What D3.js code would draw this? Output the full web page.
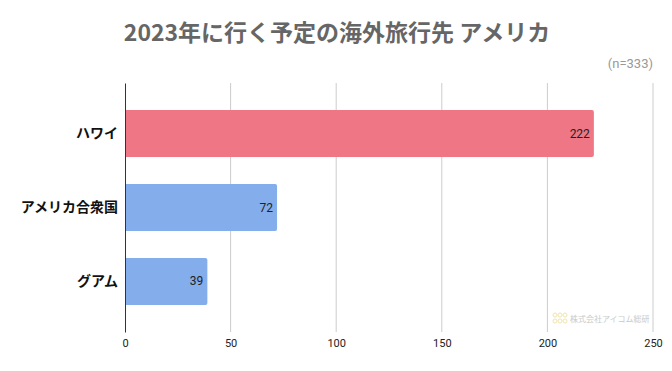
<!DOCTYPE html>
<html>
<head>
<meta charset="utf-8">
<script src="https://cdn.jsdelivr.net/npm/d3@7"></script>
<style>
  body { margin: 0; background: #fff; }
  svg { font-family: Roboto, "Noto Sans CJK JP", sans-serif; }
</style>
</head>
<body>
<svg width="672" height="371"></svg>
<script>
// data
var categories = ["ハワイ", "アメリカ合衆国", "グアム"];
var values = [222, 72, 39];
var barColors = ["#ef7785", "#84aeeb", "#84aeeb"];
var xTicks = [0, 50, 100, 150, 200, 250];

var svg = d3.select("svg");

// plot area
var left_margin = 125;
var right_margin = 19;
var top_margin = 83;
var bottom_margin = 39;

var width = svg.attr("width") - left_margin - right_margin;
var height = svg.attr("height") - top_margin - bottom_margin;

var x = d3.scaleLinear().domain([0, 250]).range([0, width]);
var y = d3.scaleBand().domain(categories).range([0, height]).padding(0.365);

// title
svg.append("text")
  .attr("x", 337)
  .attr("y", 41)
  .attr("text-anchor", "middle")
  .attr("font-size", 23)
  .attr("font-weight", "bold")
  .attr("fill", "#666")
  .attr("font-family", "'Noto Sans CJK JP', sans-serif")
  .text("2023年に行く予定の海外旅行先 アメリカ");

svg.append("text")
  .attr("x", 653)
  .attr("y", 68)
  .attr("text-anchor", "end")
  .attr("font-size", 13)
  .attr("fill", "#999")
  .text("(n=333)");

var g = svg.append("g").attr("transform", "translate(" + left_margin + "," + top_margin + ")");

// gridlines
g.selectAll(".grid")
  .data(xTicks.slice(1))
  .enter().append("line")
    .attr("x1", function(d) { return x(d); })
    .attr("x2", function(d) { return x(d); })
    .attr("y1", 0)
    .attr("y2", height)
    .attr("stroke", "#cccccc")
    .attr("stroke-width", 1);

// x axis labels
var xAxis = g.append("g")
  .attr("transform", "translate(0," + height + ")")
  .call(d3.axisBottom(x).tickValues(xTicks).tickSize(0).tickPadding(7));
xAxis.select(".domain").remove();
xAxis.selectAll("text")
  .attr("font-size", 11)
  .attr("fill", "#222")
  .attr("font-family", "Roboto, sans-serif");

// watermark logo
var logo = svg.append("g").attr("transform", "translate(553,313)").attr("opacity", 0.9);
[[0,0],[5,0],[10,0],[0,6],[5,6],[10,6]].forEach(function(p) {
  logo.append("circle").attr("cx", p[0] + 2).attr("cy", p[1] + 2).attr("r", 2)
    .attr("fill", "none").attr("stroke", "#f1e3a6").attr("stroke-width", 1);
});
logo.append("text")
  .attr("x", 17)
  .attr("y", 9)
  .attr("font-size", 8)
  .attr("fill", "#c4c4c4")
  .attr("font-family", "'Noto Sans CJK JP', sans-serif")
  .text("株式会社アイコム総研");

// bars with slightly rounded right end
function barPath(w, h, r) {
  r = Math.min(r, w);
  return "M0,0 H" + (w - r) + " Q" + w + ",0 " + w + "," + r +
    " V" + (h - r) + " Q" + w + "," + h + " " + (w - r) + "," + h + " H0 Z";
}

g.selectAll(".bar")
  .data(values)
  .enter().append("path")
    .attr("class", "bar")
    .attr("transform", function(d, i) { return "translate(0," + y(categories[i]) + ")"; })
    .attr("d", function(d) { return barPath(x(d), y.bandwidth(), 2); })
    .attr("fill", function(d, i) { return barColors[i]; });

// value labels
g.selectAll(".val")
  .data(values)
  .enter().append("text")
    .attr("x", function(d) { return x(d) - 4; })
    .attr("y", function(d, i) { return y(categories[i]) + y.bandwidth() / 2 + 4; })
    .attr("text-anchor", "end")
    .attr("font-size", 12)
    .attr("fill", "#222")
    .attr("font-family", "Roboto, sans-serif")
    .text(function(d) { return d; });

// y axis
var yAxis = g.append("g")
  .call(d3.axisLeft(y).tickSize(0).tickPadding(7));
yAxis.select(".domain").attr("stroke", "#333").attr("stroke-width", 1);
yAxis.selectAll("text")
  .attr("font-size", 14)
  .attr("font-weight", "bold")
  .attr("fill", "#111")
  .attr("font-family", "'Noto Sans CJK JP', sans-serif");
</script>
</body>
</html>
